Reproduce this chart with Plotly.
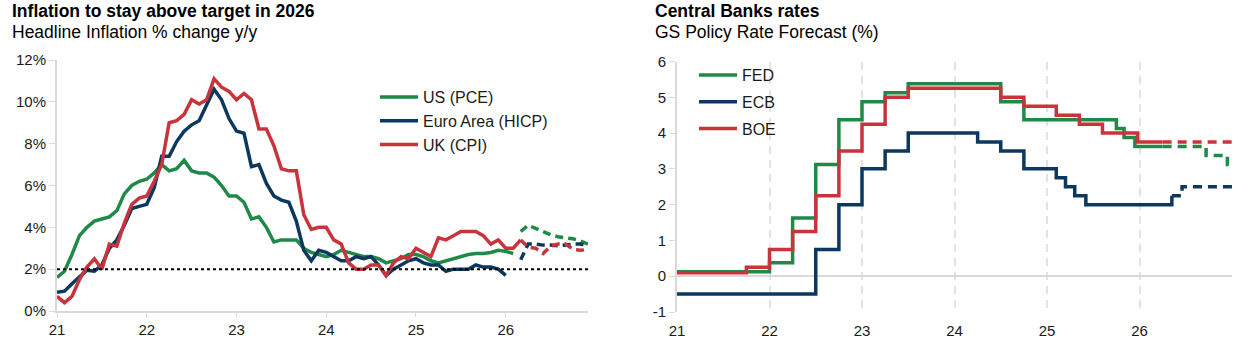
import plotly.graph_objects as go

W, H = 1244, 342

# ---------------- Left chart data: monthly y/y inflation, Jan-2021 onwards ----------------
start_year = 21
us_pce = [1.6, 1.9, 2.7, 3.6, 4.0, 4.3, 4.4, 4.5, 4.8, 5.6, 6.0, 6.2,
          6.3, 6.6, 7.0, 6.7, 6.8, 7.2, 6.7, 6.6, 6.6, 6.4, 6.0, 5.5,
          5.5, 5.2, 4.4, 4.5, 4.0, 3.3, 3.4, 3.4, 3.4, 3.0, 2.8, 2.7,
          2.6, 2.7, 2.9, 2.8, 2.7, 2.6, 2.6, 2.5, 2.3, 2.4, 2.5, 2.7,
          2.7, 2.6, 2.4, 2.3, 2.4, 2.5, 2.6, 2.7, 2.75, 2.75, 2.8, 2.9,
          2.85, 2.75]
ea_hicp = [0.9, 0.95, 1.3, 1.6, 1.95, 1.9, 2.2, 3.0, 3.4, 4.1, 4.9, 5.0,
           5.1, 5.9, 7.4, 7.4, 8.1, 8.6, 8.9, 9.1, 9.9, 10.6, 10.1, 9.2,
           8.6, 8.5, 6.9, 7.0, 6.1, 5.5, 5.3, 5.2, 4.3, 2.9, 2.4, 2.9,
           2.8, 2.6, 2.4, 2.4, 2.6, 2.5, 2.6, 2.2, 1.7, 2.0, 2.2, 2.4,
           2.5, 2.3, 2.2, 2.2, 1.9, 2.0, 2.0, 2.0, 2.2, 2.1, 2.1, 2.0,
           1.7]
uk_cpi = [0.7, 0.4, 0.7, 1.5, 2.1, 2.5, 2.0, 3.2, 3.1, 4.2, 5.1, 5.4,
          5.5, 6.2, 7.0, 9.0, 9.1, 9.4, 10.1, 9.9, 10.1, 11.1, 10.7, 10.5,
          10.1, 10.4, 10.1, 8.7, 8.7, 7.9, 6.8, 6.7, 6.7, 4.6, 3.9, 4.0,
          4.0, 3.4, 3.2, 2.3, 2.0, 2.0, 2.2, 2.2, 1.7, 2.3, 2.6, 2.5,
          3.0, 2.8, 2.6, 3.5, 3.4, 3.6, 3.8, 3.8, 3.8, 3.6, 3.2, 3.4,
          3.0, 3.0, 3.4]
# forecasts: Mar-2026 .. Dec-2026 (month index 62..71)
fc_start_month = 62
us_pce_fc = [3.8, 4.1, 3.95, 3.8, 3.65, 3.55, 3.5, 3.45, 3.35, 3.2]
ea_hicp_fc = [2.45, 3.2, 3.2, 3.15, 3.15, 3.12, 3.15, 3.2, 3.2, 3.1]
uk_cpi_fc = [3.4, 3.05, 3.0, 2.75, 3.1, 3.2, 3.2, 2.95, 2.9, 2.95]
inflation_target = 2.0
left_ticks = [21, 22, 23, 24, 25, 26]
left_yticks = [0, 2, 4, 6, 8, 10, 12]

# ---------------- Right chart data: policy rates (step changes) ----------------
fed_dates = [21.0, 22.0, 22.25, 22.5, 22.75, 23.0, 23.25, 23.5, 24.5, 24.75, 25.75, 25.833, 25.95, 26.25]
fed_rates = [0.125, 0.375, 1.625, 3.125, 4.375, 4.875, 5.125, 5.375, 4.875, 4.375, 4.125, 3.875, 3.625, 3.625]
fed_fc_dates = [26.25, 26.72, 26.95, 27.0]
fed_fc_rates = [3.625, 3.375, 3.125, 3.125]

ecb_dates = [21.0, 22.5, 22.75, 23.0, 23.25, 23.5, 24.25, 24.5, 24.75, 25.1, 25.2, 25.3, 25.42, 26.35]
ecb_rates = [-0.5, 0.75, 2.0, 3.0, 3.5, 4.0, 3.75, 3.5, 3.0, 2.75, 2.5, 2.25, 2.0, 2.25]
ecb_fc_dates = [26.35, 26.46, 27.0]
ecb_fc_rates = [2.25, 2.5, 2.5]

boe_dates = [21.0, 21.75, 22.0, 22.25, 22.5, 22.75, 23.0, 23.25, 23.5, 24.5, 24.75, 25.1, 25.35, 25.6, 25.98, 26.25]
boe_rates = [0.1, 0.25, 0.75, 1.25, 2.25, 3.5, 4.25, 5.0, 5.25, 5.0, 4.75, 4.5, 4.25, 4.0, 3.75, 3.75]
boe_fc_dates = [26.25, 27.0]
boe_fc_rates = [3.75, 3.75]
right_ticks = [21, 22, 23, 24, 25, 26]
right_yticks = [-1, 0, 1, 2, 3, 4, 5, 6]

GREEN = "#1f8a47"
NAVY = "#0c375e"
RED = "#c7343b"
GRID = "#d9d9d9"
FONT = "Arial, 'Liberation Sans', sans-serif"
TXT = "#1a1a1a"


def mx(start, n):
    return [start_year + (start + i) / 12 for i in range(n)]


fig = go.Figure()

# left chart
lw = 3.5
fig.add_trace(go.Scatter(x=mx(0, len(us_pce)), y=us_pce, mode="lines", name="US (PCE)",
                         line=dict(color=GREEN, width=lw), xaxis="x", yaxis="y", legend="legend"))
fig.add_trace(go.Scatter(x=mx(0, len(ea_hicp)), y=ea_hicp, mode="lines", name="Euro Area (HICP)",
                         line=dict(color=NAVY, width=lw), xaxis="x", yaxis="y", legend="legend"))
fig.add_trace(go.Scatter(x=mx(0, len(uk_cpi)), y=uk_cpi, mode="lines", name="UK (CPI)",
                         line=dict(color=RED, width=lw), xaxis="x", yaxis="y", legend="legend"))
for vals, col in [(us_pce_fc, GREEN), (ea_hicp_fc, NAVY), (uk_cpi_fc, RED)]:
    fig.add_trace(go.Scatter(x=mx(fc_start_month, len(vals)), y=vals, mode="lines", showlegend=False,
                             line=dict(color=col, width=lw, dash="8px,5px"), xaxis="x", yaxis="y"))
fig.add_trace(go.Scatter(x=[start_year, start_year + 71 / 12], y=[inflation_target] * 2, mode="lines",
                         showlegend=False, line=dict(color="black", width=2, dash="dot"),
                         xaxis="x", yaxis="y"))

# right chart
rw = 3.5
for d, r, col, name in [(fed_dates, fed_rates, GREEN, "FED"), (ecb_dates, ecb_rates, NAVY, "ECB"),
                        (boe_dates, boe_rates, RED, "BOE")]:
    fig.add_trace(go.Scatter(x=d, y=r, mode="lines", name=name, legendgroup=name,
                             line=dict(color=col, width=rw, shape="hv"),
                             xaxis="x2", yaxis="y2", legend="legend2"))
for d, r, col in [(fed_fc_dates, fed_fc_rates, GREEN), (ecb_fc_dates, ecb_fc_rates, NAVY),
                  (boe_fc_dates, boe_fc_rates, RED)]:
    fig.add_trace(go.Scatter(x=d, y=r, mode="lines", showlegend=False,
                             line=dict(color=col, width=rw, shape="hv", dash="9px,6px"),
                             xaxis="x2", yaxis="y2"))


def px_x(p):
    return p / W


def px_y(p):
    return 1 - p / H


tickfont = dict(family=FONT, size=15, color=TXT)

fig.update_layout(
    template="none",
    width=W, height=H, margin=dict(l=0, r=0, t=0, b=0, pad=0, autoexpand=False),
    paper_bgcolor="white", plot_bgcolor="white",
    font=dict(family=FONT, color=TXT),
    hovermode=False,
    xaxis=dict(domain=[px_x(57), px_x(588)], range=[21, 21 + 71 / 12], tickvals=left_ticks,
               ticktext=[str(t) for t in left_ticks], showgrid=False, zeroline=False,
               showline=True, linecolor=GRID, linewidth=2, ticks="outside", ticklen=4,
               tickcolor=GRID, tickwidth=1, tickfont=tickfont, anchor="y", automargin=False),
    yaxis=dict(domain=[px_y(311), px_y(60)], range=[0, 12], tickvals=left_yticks,
               ticktext=[f"{t}%" for t in left_yticks], showgrid=False, zeroline=False,
               showline=True, linecolor=GRID, linewidth=2, ticks="outside", ticklen=6,
               tickcolor=GRID, tickwidth=1, tickfont=tickfont, anchor="x", automargin=False),
    xaxis2=dict(domain=[px_x(677), px_x(1232)], range=[21, 27], tickvals=right_ticks,
                ticktext=[str(t) for t in right_ticks], showgrid=True, gridcolor="#e3e3e3",
                griddash="8px,6px", gridwidth=2, zeroline=False, showline=False,
                ticks="outside", ticklen=5, tickcolor="rgba(0,0,0,0)",
                tickfont=tickfont, anchor="y2", automargin=False),
    yaxis2=dict(domain=[px_y(312), px_y(61.5)], range=[-1, 6], tickvals=right_yticks,
                ticktext=[str(t) for t in right_yticks], showgrid=False, zeroline=True,
                zerolinecolor=GRID, zerolinewidth=2, showline=True, linecolor=GRID, linewidth=2,
                ticks="outside", ticklen=6, tickcolor=GRID, tickwidth=1, tickfont=tickfont,
                anchor="x2", automargin=False),
    legend=dict(x=px_x(375), y=px_y(80), xanchor="left", yanchor="top",
                font=dict(family=FONT, size=16, color=TXT), bgcolor="rgba(0,0,0,0)",
                tracegroupgap=0, itemwidth=38),
    legend2=dict(x=px_x(694), y=px_y(58), xanchor="left", yanchor="top",
                 font=dict(family=FONT, size=16, color=TXT), bgcolor="rgba(0,0,0,0)",
                 tracegroupgap=3, itemwidth=38),
    annotations=[
        dict(text="<b>Inflation to stay above target in 2026</b>", x=px_x(10), y=px_y(-1),
             xref="paper", yref="paper", xanchor="left", yanchor="top", showarrow=False,
             font=dict(family=FONT, size=17.5, color="black")),
        dict(text="Headline Inflation % change y/y", x=px_x(10), y=px_y(20),
             xref="paper", yref="paper", xanchor="left", yanchor="top", showarrow=False,
             font=dict(family=FONT, size=17.5, color="black")),
        dict(text="<b>Central Banks rates</b>", x=px_x(653), y=px_y(-1),
             xref="paper", yref="paper", xanchor="left", yanchor="top", showarrow=False,
             font=dict(family=FONT, size=17.5, color="black")),
        dict(text="GS Policy Rate Forecast (%)", x=px_x(653), y=px_y(20),
             xref="paper", yref="paper", xanchor="left", yanchor="top", showarrow=False,
             font=dict(family=FONT, size=17.5, color="black")),
    ],
)

fig.write_html("out.html")
